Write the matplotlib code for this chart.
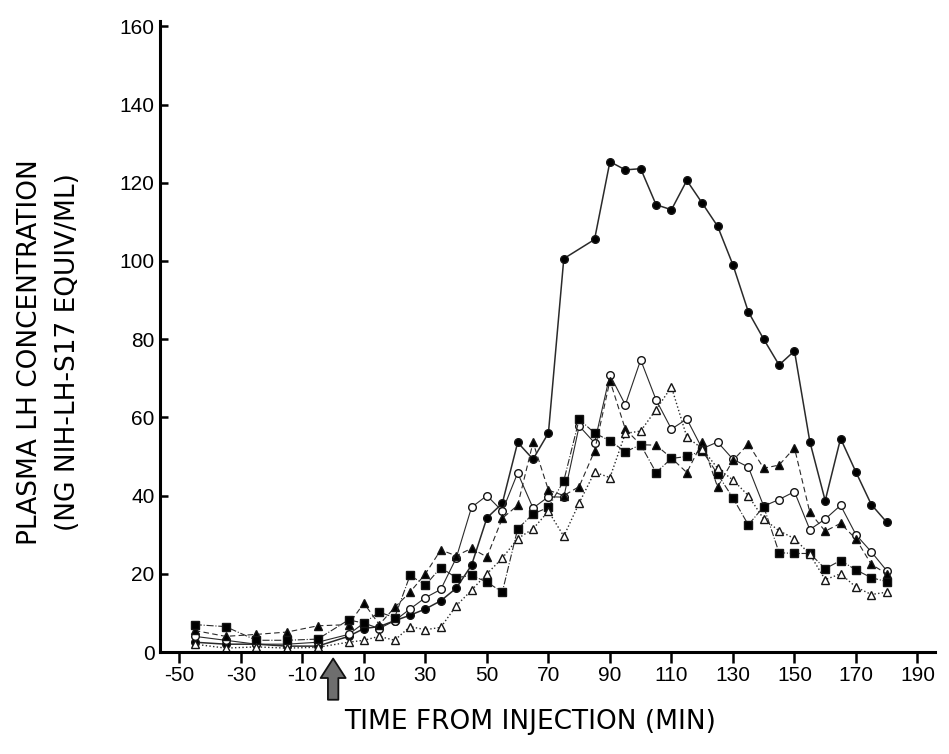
import matplotlib
matplotlib.use("Agg")
import matplotlib.pyplot as plt

plt.rcParams["axes.unicode_minus"] = False
plt.rcParams["font.family"] = ["Liberation Sans", "DejaVu Sans"]

# sampling times (min from injection)
times = [-45, -35, -25, -15, -5, 5, 10, 15, 20, 25, 30, 35, 40, 45, 50, 55, 60,
         65, 70, 75, 80, 85, 90, 95, 100, 105, 110, 115, 120, 125, 130, 135,
         140, 145, 150, 155, 160, 165, 170, 175, 180]

# plasma LH, one list per animal (None = no sample)
filled_circle = [2.5, 2, 2, 1.5, 1.5, 4, 6, 6.5, 8, 9.4, 11, 13.1, 16.3, 22.2,
                 34.3, 38, 53.6, 49.3, 56, 100.6, None, 105.5, 125.4, 123.3,
                 123.6, 114.4, 113.1, 120.6, 114.8, 108.9, 99, 87, 80, 73.4,
                 77, 53.8, 38.7, 54.6, 46, 37.7, 33.2]
open_circle = [4, 3, 2, 2, 2.5, 4.5, 7.4, 6, 8, 11, 13.9, 16, 24, 37, 40, 36,
               45.8, 36.8, 39.7, 39.6, 57.8, 53.5, 70.9, 63.2, 74.7, 64.5, 57,
               59.6, 52, 53.7, 49.3, 47.3, 37.3, 39, 41, 31.3, 34, 37.5, 30,
               25.6, 20.8]
filled_triangle = [5.5, 4, 4.5, 5.1, 6.7, 7, 12.5, 7, 11.4, 15.3, 20, 26.1,
                   24.6, 26.5, 24.3, 34.2, 37.5, 53.6, 41.4, 40, 42.3, 51.4,
                   69.4, 57, 53, 52.9, 49.6, 45.9, 53.6, 42.2, 49, 53.2, 47,
                   47.8, 52.2, 35.7, 30.9, 32.9, 28.9, 22.4, 20]
filled_square = [7, 6.5, 3, 3, 3.3, 8.2, 7.4, 10.2, 8.8, 19.6, 17.1, 21.6, 19,
                 19.6, 17.9, 15.3, 31.5, 35.3, 37, 43.8, 59.5, 56, 54, 51.2,
                 53, 45.9, 49.5, 50, 51.5, 45.5, 39.4, 32.5, 37.2, 25.4, 25.2,
                 25.2, 21.3, 23.4, 21, 19, 18]
open_triangle = [2, 1, 1.3, 1, 1.2, 2.5, 3, 4, 3, 6.5, 5.7, 6.3, 11.8, 15.8,
                 20, 24, 29, 31.5, 36, 29.6, 38.1, 46, 44.6, 55.9, 56.5, 62,
                 67.8, 55, 52, 47, 44, 40, 34, 31, 29, 25, 18.5, 20, 16.6,
                 14.7, 15.3]

x_ticks = list(range(-50, 191, 20))
y_ticks = list(range(0, 161, 20))

fig = plt.figure(figsize=(9.49, 7.54), dpi=100)
ax = fig.add_axes([160 / 949, 102 / 754, 775 / 949, 631.5 / 754])

series = [
    (filled_circle, "o", "black", "-", 1.1),
    (open_circle, "o", "white", "-", 0.8),
    (filled_triangle, "^", "black", (0, (5, 3)), 0.8),
    (filled_square, "s", "black", "-.", 0.8),
    (open_triangle, "^", "white", ":", 1.0),
]

for values, marker, face, style, lw in series:
    pts = [(t, v) for t, v in zip(times, values) if v is not None]
    xs = [p[0] for p in pts]
    ys = [p[1] for p in pts]
    ax.plot(xs, ys, linestyle=style, color="#2a2a2a", linewidth=lw,
            marker=marker, markersize=5.5, markerfacecolor=face,
            markeredgecolor="#151515", markeredgewidth=1.0)

ax.set_xlim(-56.3, 195.7)
ax.set_ylim(0, 161.5)
ax.set_xticks(x_ticks)
ax.set_yticks(y_ticks)
ax.spines["top"].set_visible(False)
ax.spines["right"].set_visible(False)
ax.spines["left"].set_linewidth(2.2)
ax.spines["bottom"].set_linewidth(2.2)
ax.tick_params(axis="y", direction="in", length=6, width=1.8, labelsize=15,
               pad=4)
ax.tick_params(axis="x", direction="out", length=8, width=1.8, labelsize=15,
               pad=2)

# injection arrow under x = 0
ax.annotate("", xy=(0, -0.006), xycoords=("data", "axes fraction"),
            xytext=(0, -0.08), textcoords=("data", "axes fraction"),
            arrowprops=dict(arrowstyle="simple,head_width=1.8,head_length=1.4,tail_width=0.75",
                            fc="#6e6e6e", ec="#111111", lw=1.3))

fig.text(530 / 949, 1 - 722 / 754, "TIME FROM INJECTION (MIN)",
         ha="center", va="center", fontsize=19, family="DejaVu Sans")
fig.text(30 / 949, 1 - 352 / 754, "PLASMA LH CONCENTRATION",
         ha="center", va="center", rotation=90, fontsize=19,
         family="DejaVu Sans")
fig.text(68 / 949, 1 - 352 / 754, "(NG NIH-LH-S17 EQUIV/ML)",
         ha="center", va="center", rotation=90, fontsize=19,
         family="DejaVu Sans")

plt.savefig("out.png", dpi=100)
plt.close()
